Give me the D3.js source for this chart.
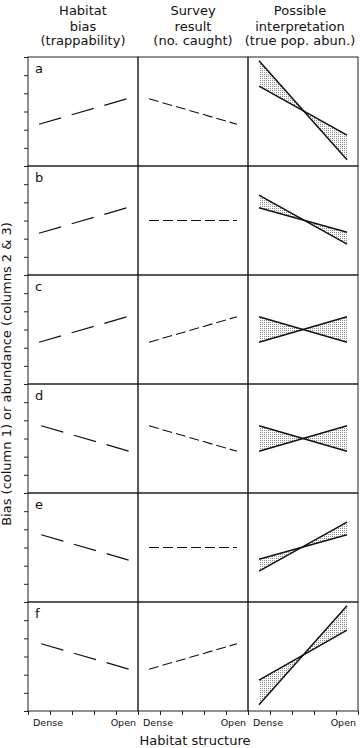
<!DOCTYPE html>
<html>
<head>
<meta charset="utf-8">
<script src="https://cdn.jsdelivr.net/npm/d3@7"></script>
<style>
  body { margin: 0; background: #fff; }
  text { font-family: "DejaVu Sans", sans-serif; fill: #111; }
</style>
</head>
<body>
<svg id="chart" width="362" height="748"></svg>
<script>
// panel letters and column headings
var rows = ["a", "b", "c", "d", "e", "f"];
var colHeads = [
  ["Habitat", "bias", "(trappability)"],
  ["Survey", "result", "(no. caught)"],
  ["Possible", "interpretation", "(true pop. abun.)"]
];
var xLabels = ["Dense", "Open"];

// x positions (tick units, 0-5) of the Dense and Open ends of the lines
var biasX = [[0.5, 4.5], [0.5, 4.5], [0.5, 4.5], [0.6, 4.6], [0.6, 4.6], [0.6, 4.6]];
var lineX = [0.5, 4.5];

// values in tick units (0-6) at the Dense and Open ends
var biasVals   = [[2.3, 3.7], [2.3, 3.7], [2.3, 3.7], [3.7, 2.3], [3.7, 2.3], [3.7, 2.3]];
var surveyVals = [[3.7, 2.3], [3.0, 3.0], [2.3, 3.7], [3.7, 2.3], [3.0, 3.0], [2.3, 3.7]];
var interpA    = [[5.8, 0.35], [4.4, 1.7], [3.7, 2.3], [3.7, 2.3], [2.35, 3.7], [1.7, 4.45]];
var interpB    = [[4.4, 1.7], [3.7, 2.35], [2.3, 3.7], [2.3, 3.7], [1.7, 4.4], [0.35, 5.8]];

var frameLeft = 28, frameTop = 57, colW = 110, rowH = 109;
var svg = d3.select("#chart");

// stipple for the shaded area between the two interpretations
var pat = svg.append("defs").append("pattern")
  .attr("id", "stip").attr("width", 2).attr("height", 2)
  .attr("patternUnits", "userSpaceOnUse");
pat.append("rect").attr("width", 1).attr("height", 1).attr("fill", "#888");

var xs = colHeads.map(function (h, c) {
  return d3.scaleLinear().domain([0, 5]).range([frameLeft + c * colW, frameLeft + (c + 1) * colW]);
});
var ys = rows.map(function (r, i) {
  return d3.scaleLinear().domain([0, 6]).range([frameTop + (i + 1) * rowH, frameTop + i * rowH]);
});

// headers
colHeads.forEach(function (h, c) {
  var cx = c == 2 ? 300 : (xs[c](0) + xs[c](5)) / 2;
  var t = svg.append("text").attr("text-anchor", "middle").style("font-size", "13px");
  h.forEach(function (s, k) {
    t.append("tspan").attr("x", cx).attr("y", [15, 30.5, 45][k]).text(s);
  });
});

var line = d3.line();

rows.forEach(function (r, i) {
  var y = ys[i];

  // left ticks
  svg.append("g")
    .attr("transform", "translate(" + frameLeft + ",0)")
    .call(d3.axisLeft(y).tickValues(d3.range(0, 7)).tickSize(4).tickFormat(""))
    .call(function (g) { g.select(".domain").remove(); })
    .selectAll("line").attr("stroke", "#222");

  // cells
  xs.forEach(function (x) {
    svg.append("rect")
      .attr("x", x(0)).attr("y", y(6))
      .attr("width", x(5) - x(0)).attr("height", y(0) - y(6))
      .attr("fill", "none").attr("stroke", "#222").attr("stroke-width", 1);
  });

  svg.append("text").attr("x", 35).attr("y", y(6) + 16)
    .style("font-size", "13px").text(r);

  // column 1: habitat bias
  svg.append("path")
    .attr("d", line(biasX[i].map(function (v, k) { return [xs[0](v), y(biasVals[i][k])]; })))
    .attr("fill", "none").attr("stroke", "#111").attr("stroke-width", 1.2)
    .attr("stroke-dasharray", "23,11");

  // column 2: survey result
  svg.append("path")
    .attr("d", line(lineX.map(function (v, k) { return [xs[1](v), y(surveyVals[i][k])]; })))
    .attr("fill", "none").attr("stroke", "#111").attr("stroke-width", 1.1)
    .attr("stroke-dasharray", "10,4");

  // column 3: possible interpretation
  var a = lineX.map(function (v, k) { return [xs[2](v), y(interpA[i][k])]; });
  var b = lineX.map(function (v, k) { return [xs[2](v), y(interpB[i][k])]; });
  svg.append("path")
    .attr("d", line([a[0], a[1], b[1], b[0]]) + "Z")
    .attr("fill", "url(#stip)").attr("stroke", "none");
  [a, b].forEach(function (pts) {
    svg.append("path").attr("d", line(pts))
      .attr("fill", "none").attr("stroke", "#111").attr("stroke-width", 1.5);
  });
});

// bottom ticks and labels
xs.forEach(function (x) {
  svg.append("g")
    .attr("transform", "translate(0," + (frameTop + 6 * rowH) + ")")
    .call(d3.axisBottom(x).tickValues(d3.range(0, 6)).tickSize(4).tickFormat(""))
    .call(function (g) { g.select(".domain").remove(); })
    .selectAll("line").attr("stroke", "#222");
  svg.append("text").attr("x", x(0) + 5).attr("y", 726)
    .style("font-size", "9.5px").text(xLabels[0]);
  svg.append("text").attr("x", x(5) - 2).attr("y", 726)
    .attr("text-anchor", "end").style("font-size", "9.5px").text(xLabels[1]);
});

svg.append("text").attr("x", 195).attr("y", 745)
  .attr("text-anchor", "middle").style("font-size", "13px")
  .text("Habitat structure");

svg.append("text")
  .attr("transform", "translate(11,374) rotate(-90)")
  .attr("text-anchor", "middle").style("font-size", "13px")
  .text("Bias (column 1) or abundance (columns 2 & 3)");
</script>
</body>
</html>
